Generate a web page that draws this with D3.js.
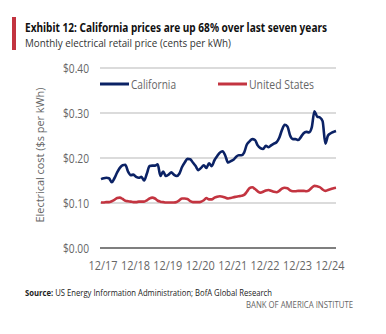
<!DOCTYPE html>
<html>
<head>
<meta charset="utf-8">
<script src="https://cdn.jsdelivr.net/npm/d3@7/dist/d3.min.js"></script>
<style>
  body { margin: 0; background: #fff; }
  svg { display: block; }
</style>
</head>
<body>
<svg id="chart" width="386" height="334"></svg>
<script>
// monthly series, Dec 2017 .. Mar 2025
var startMonth = new Date(2017, 11, 1);

var california = [
    0.153, 0.155, 0.156, 0.155, 0.146, 0.155, 0.168, 0.178, 0.184, 0.185, 0.170, 0.162,
    0.163, 0.158, 0.156, 0.158, 0.150, 0.165, 0.182, 0.183, 0.183, 0.186, 0.160, 0.170,
    0.160, 0.163, 0.168, 0.163, 0.160, 0.165, 0.180, 0.190, 0.198, 0.197, 0.190, 0.182,
    0.173, 0.178, 0.184, 0.178, 0.188, 0.182, 0.195, 0.204, 0.212, 0.215, 0.205, 0.190,
    0.193, 0.196, 0.203, 0.206, 0.206, 0.212, 0.230, 0.237, 0.242, 0.240, 0.228, 0.222,
    0.220, 0.227, 0.224, 0.228, 0.232, 0.235, 0.245, 0.262, 0.274, 0.270, 0.250, 0.242,
    0.242, 0.240, 0.247, 0.255, 0.258, 0.257, 0.268, 0.304, 0.292, 0.290, 0.282, 0.232,
    0.250, 0.255, 0.258, 0.260
];

var unitedStates = [
    0.101, 0.101, 0.102, 0.102, 0.104, 0.107, 0.111, 0.112, 0.109, 0.105, 0.104, 0.103,
    0.102, 0.102, 0.103, 0.103, 0.103, 0.106, 0.110, 0.112, 0.110, 0.105, 0.103, 0.102,
    0.101, 0.101, 0.101, 0.101, 0.102, 0.106, 0.110, 0.110, 0.109, 0.104, 0.102, 0.102,
    0.102, 0.103, 0.106, 0.111, 0.108, 0.108, 0.112, 0.114, 0.115, 0.114, 0.112, 0.110,
    0.111, 0.113, 0.114, 0.115, 0.116, 0.118, 0.125, 0.133, 0.135, 0.131, 0.126, 0.123,
    0.125, 0.128, 0.129, 0.127, 0.125, 0.124, 0.127, 0.132, 0.134, 0.133, 0.128, 0.126,
    0.126, 0.127, 0.127, 0.127, 0.126, 0.128, 0.134, 0.138, 0.137, 0.135, 0.130, 0.127,
    0.129, 0.131, 0.133, 0.134
];

var yTicks = [0, 0.1, 0.2, 0.3, 0.4];
var xTickLabels = ["12/17", "12/18", "12/19", "12/20", "12/21", "12/22", "12/23", "12/24"];

var seriesNames = ["California", "United States"];
var seriesColors = ["#0b2265", "#c33440"];

var svg = d3.select("#chart");
var font = "'Open Sans', 'Noto Sans', sans-serif";

function monthDate(i) {
    return d3.timeMonth.offset(startMonth, i);
}

// squeeze a text to a given width (the house font is a narrow one)
function fit(sel, w) {
    sel.attr("textLength", w).attr("lengthAdjust", "spacingAndGlyphs");
}

var x = d3.scaleTime()
    .domain([startMonth, monthDate(california.length - 1)])
    .range([101, 336]);

var y = d3.scaleLinear()
    .domain([0, 0.4])
    .range([248, 68]);

// title block
svg.append("rect")
    .attr("x", 12).attr("y", 17)
    .attr("width", 4).attr("height", 33)
    .attr("fill", "#c33440");

svg.append("text")
    .attr("x", 25).attr("y", 32)
    .attr("font-family", "'Noto Sans', sans-serif")
    .attr("font-weight", "bold")
    .attr("font-size", 11.5)
    .attr("fill", "#111")
    .call(fit, 302)
    .text("Exhibit 12: California prices are up 68% over last seven years");

svg.append("text")
    .attr("x", 25).attr("y", 47)
    .attr("font-family", font)
    .attr("font-size", 11)
    .attr("fill", "#333")
    .call(fit, 206)
    .text("Monthly electrical retail price (cents per kWh)");

// grid and y axis
var grid = svg.append("g");
grid.selectAll("line")
    .data(yTicks)
    .enter().append("line")
    .attr("x1", 100).attr("x2", 336)
    .attr("y1", function (d) { return y(d); })
    .attr("y2", function (d) { return y(d); })
    .attr("stroke", function (d) { return d === 0 ? "#555" : "#cfcfcf"; })
    .attr("stroke-width", function (d) { return d === 0 ? 1.6 : 1.4; });

grid.selectAll("text")
    .data(yTicks)
    .enter().append("text")
    .attr("x", 89)
    .attr("y", function (d) { return y(d) + 4.5; })
    .attr("text-anchor", "end")
    .attr("font-family", font)
    .attr("font-size", 12.5)
    .attr("fill", "#666")
    .call(fit, 26)
    .text(function (d) { return "$" + d3.format(".2f")(d); });

svg.append("text")
    .attr("transform", "translate(44,155) rotate(-90)")
    .attr("text-anchor", "middle")
    .attr("font-family", font)
    .attr("font-size", 11.5)
    .attr("fill", "#666")
    .call(fit, 135)
    .text("Electrical cost ($s per kWh)");

// x labels, one per December
svg.append("g").selectAll("text")
    .data(xTickLabels)
    .enter().append("text")
    .attr("x", function (d, i) { return x(monthDate(i * 12)) + 2; })
    .attr("y", 270)
    .attr("text-anchor", "middle")
    .attr("font-family", font)
    .attr("font-size", 12.5)
    .attr("fill", "#666")
    .call(fit, 29)
    .text(function (d) { return d; });

// series lines
var line = d3.line()
    .x(function (d, i) { return x(monthDate(i)); })
    .y(function (d) { return y(d); })
    .curve(d3.curveMonotoneX);

[california, unitedStates].forEach(function (values, k) {
    svg.append("path")
        .datum(values)
        .attr("d", line)
        .attr("fill", "none")
        .attr("stroke", seriesColors[k])
        .attr("stroke-width", 2.6)
        .attr("stroke-linejoin", "round");
});

// legend
var legendX = [100, 218];
var legendW = [45, 65];
var legend = svg.append("g").selectAll("g")
    .data(seriesNames)
    .enter().append("g")
    .attr("transform", function (d, i) { return "translate(" + legendX[i] + ",84)"; });

legend.append("line")
    .attr("x1", 0).attr("x2", 29)
    .attr("stroke", function (d, i) { return seriesColors[i]; })
    .attr("stroke-width", 3);

legend.append("text")
    .attr("x", 31).attr("y", 4.5)
    .attr("font-family", font)
    .attr("font-size", 12.5)
    .attr("fill", "#666")
    .attr("textLength", function (d, i) { return legendW[i]; })
    .attr("lengthAdjust", "spacingAndGlyphs")
    .text(function (d) { return d; });

// footer
var source = svg.append("text")
    .attr("x", 25).attr("y", 296)
    .attr("font-family", font)
    .attr("font-size", 8.5)
    .attr("fill", "#222")
    .call(fit, 247);
source.append("tspan").attr("font-weight", "bold").text("Source: ");
source.append("tspan").text("US Energy Information Administration; BofA Global Research");

svg.append("text")
    .attr("x", 353).attr("y", 308)
    .attr("text-anchor", "end")
    .attr("font-family", font)
    .attr("font-size", 8.5)
    .attr("fill", "#666")
    .call(fit, 107)
    .text("BANK OF AMERICA INSTITUTE");
</script>
</body>
</html>
